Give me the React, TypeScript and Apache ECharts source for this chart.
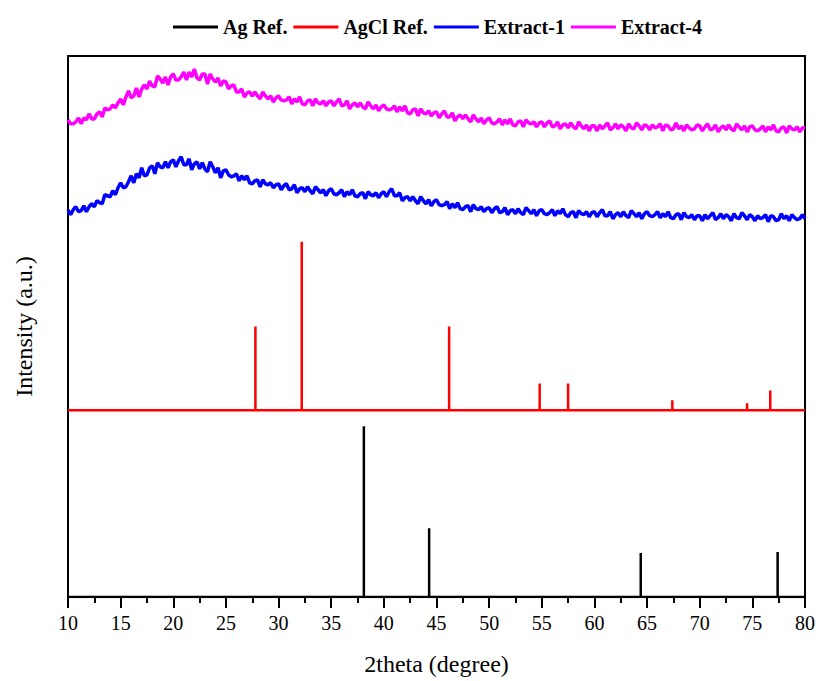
import React, { useEffect, useRef } from "react";
import * as echarts from "echarts";

// 2theta grid for the measured patterns: 10..80 step 0.25
const scanStart = 10;
const scanStep = 0.25;

const extract1 = [
  388, 383, 388, 391, 386, 387, 392, 386, 391, 394, 391, 397, 395, 394, 403, 402, 401, 407, 403, 410,
  415, 410, 411, 416, 422, 415, 424, 420, 430, 422, 423, 430, 432, 424, 435, 431, 430, 436, 430, 436,
  438, 431, 437, 441, 433, 433, 439, 428, 434, 436, 429, 435, 429, 426, 436, 431, 425, 430, 420, 427,
  428, 423, 421, 422, 424, 417, 422, 418, 422, 415, 414, 417, 418, 411, 418, 414, 413, 415, 410, 413,
  414, 408, 412, 414, 408, 409, 413, 405, 409, 410, 406, 411, 407, 404, 411, 408, 405, 408, 402, 407,
  409, 404, 403, 405, 408, 401, 406, 403, 408, 402, 401, 404, 405, 399, 406, 403, 402, 405, 400, 404,
  406, 401, 406, 409, 402, 402, 405, 397, 400, 401, 397, 401, 397, 394, 401, 397, 394, 398, 392, 396,
  398, 393, 392, 393, 396, 389, 394, 390, 395, 389, 388, 391, 392, 386, 393, 389, 388, 391, 386, 389,
  390, 385, 389, 391, 385, 386, 390, 383, 387, 388, 384, 389, 385, 383, 390, 387, 384, 388, 382, 387,
  388, 384, 383, 385, 388, 382, 387, 384, 389, 383, 381, 385, 386, 380, 387, 384, 383, 386, 381, 385,
  386, 381, 385, 388, 382, 382, 386, 379, 383, 385, 381, 386, 382, 380, 387, 384, 381, 385, 379, 384,
  386, 382, 381, 383, 386, 380, 384, 381, 386, 380, 379, 383, 384, 378, 385, 381, 380, 383, 378, 382,
  382, 377, 383, 379, 382, 385, 378, 380, 384, 379, 383, 381, 377, 384, 380, 379, 385, 382, 378, 383,
  381, 377, 382, 379, 380, 383, 376, 382, 381, 377, 378, 384, 379, 382, 377, 383, 380, 378, 379, 383,
  379,
];

const extract4 = [
  478, 474, 474, 476, 480, 474, 480, 478, 484, 479, 479, 484, 486, 481, 490, 488, 489, 493, 490, 495,
  499, 493, 501, 507, 500, 502, 510, 501, 509, 513, 509, 517, 512, 511, 522, 519, 515, 521, 513, 521,
  524, 518, 518, 521, 526, 518, 526, 521, 529, 520, 518, 524, 524, 514, 524, 519, 516, 520, 512, 517,
  516, 509, 512, 513, 506, 506, 509, 501, 505, 506, 502, 506, 502, 499, 506, 502, 499, 502, 496, 500,
  502, 498, 497, 498, 501, 494, 499, 496, 501, 494, 493, 497, 498, 492, 499, 495, 494, 497, 492, 496,
  497, 492, 496, 499, 492, 493, 497, 489, 493, 495, 491, 495, 491, 489, 496, 492, 489, 493, 487, 491,
  493, 489, 488, 489, 492, 486, 491, 487, 492, 485, 484, 488, 489, 482, 489, 485, 484, 487, 482, 485,
  486, 480, 484, 487, 481, 481, 485, 477, 481, 483, 479, 483, 479, 476, 483, 479, 476, 480, 474, 478,
  480, 475, 474, 476, 479, 473, 478, 474, 479, 473, 472, 476, 477, 471, 478, 475, 474, 476, 471, 475,
  476, 471, 475, 477, 471, 472, 476, 469, 473, 474, 470, 475, 471, 469, 476, 472, 469, 473, 467, 472,
  472, 467, 473, 469, 472, 475, 468, 470, 474, 469, 473, 471, 467, 474, 470, 469, 475, 472, 468, 473,
  472, 468, 473, 470, 471, 474, 467, 473, 472, 468, 469, 475, 469, 472, 467, 473, 470, 468, 469, 473,
  472, 467, 471, 474, 468, 469, 473, 466, 470, 472, 468, 473, 469, 467, 474, 471, 468, 472, 466, 471,
  472, 468, 467, 469, 472, 466, 471, 468, 473, 467, 466, 470, 471, 465, 472, 469, 468, 471, 466, 470,
  470,
];

// Reference stick patterns
const agPos = [38.1, 44.3, 64.4, 77.4];
const agInt = [171, 69, 44, 45];
const agBase = 0;

const agclPos = [27.8, 32.2, 46.2, 54.8, 57.5, 67.4, 74.5, 76.7];
const agclInt = [84, 169, 84, 27, 27, 10, 7, 20];
const agclBase = 187;

const xTicks = { min: 10, max: 80, interval: 5 };
const yRange = { min: 0, max: 542 };

const seriesNames = ["Ag Ref.", "AgCl Ref.", "Extract-1", "Extract-4"];
const seriesColors = ["#000000", "#ff0000", "#0000ff", "#ff00ff"];

function sticks(pos: number[], heights: number[], base: number) {
  const pts: number[][] = [[xTicks.min, base]];
  pos.forEach((p, i) => {
    pts.push([p, base], [p, base + heights[i]], [p, base]);
  });
  pts.push([xTicks.max, base]);
  return pts;
}

function scan(vals: number[]) {
  return vals.map((v, i) => [scanStart + i * scanStep, v]);
}

const FONT = "'Liberation Serif', 'Times New Roman', serif";

export default function App() {
  const ref = useRef<HTMLDivElement>(null);
  useEffect(() => {
    if (!ref.current) return;
    const chart = echarts.init(ref.current, undefined, { renderer: "svg" });
    chart.setOption({
      animation: false,
      backgroundColor: "#ffffff",
      legend: {
        top: 12,
        left: 168,
        itemWidth: 45,
        itemHeight: 3,
        itemGap: 6,
        icon: "rect",
        data: seriesNames,
        textStyle: { fontFamily: FONT, fontSize: 20, fontWeight: "bold", color: "#000" },
      },
      grid: {
        left: 68,
        right: 14,
        top: 56,
        bottom: 83,
        show: true,
        borderColor: "#000",
        borderWidth: 2,
      },
      xAxis: {
        type: "value",
        min: xTicks.min,
        max: xTicks.max,
        interval: xTicks.interval,
        name: "2theta (degree)",
        nameLocation: "middle",
        nameGap: 55,
        nameTextStyle: { fontFamily: FONT, fontSize: 24, color: "#000" },
        axisLine: { show: true, lineStyle: { color: "#000", width: 2 } },
        axisTick: { show: true, inside: false, length: 11, lineStyle: { color: "#000", width: 2 } },
        minorTick: { show: true, splitNumber: 2, length: 6, lineStyle: { color: "#000", width: 2 } },
        axisLabel: { fontFamily: FONT, fontSize: 20, color: "#000", margin: 16 },
        splitLine: { show: false },
      },
      yAxis: {
        type: "value",
        min: yRange.min,
        max: yRange.max,
        name: "Intensity (a.u.)",
        nameLocation: "middle",
        nameGap: 32,
        nameTextStyle: { fontFamily: FONT, fontSize: 24, color: "#000" },
        axisLine: { show: true, lineStyle: { color: "#000", width: 2 } },
        axisTick: { show: false },
        axisLabel: { show: false },
        splitLine: { show: false },
      },
      series: [
        {
          name: seriesNames[0],
          type: "line",
          data: sticks(agPos, agInt, agBase),
          showSymbol: false,
          symbol: "none",
          lineStyle: { color: seriesColors[0], width: 2.5 },
          itemStyle: { color: seriesColors[0] },
        },
        {
          name: seriesNames[1],
          type: "line",
          data: sticks(agclPos, agclInt, agclBase),
          showSymbol: false,
          symbol: "none",
          lineStyle: { color: seriesColors[1], width: 2.5 },
          itemStyle: { color: seriesColors[1] },
        },
        {
          name: seriesNames[2],
          type: "line",
          data: scan(extract1),
          showSymbol: false,
          symbol: "none",
          lineStyle: { color: seriesColors[2], width: 3.5 },
          itemStyle: { color: seriesColors[2] },
        },
        {
          name: seriesNames[3],
          type: "line",
          data: scan(extract4),
          showSymbol: false,
          symbol: "none",
          lineStyle: { color: seriesColors[3], width: 3.5 },
          itemStyle: { color: seriesColors[3] },
        },
      ],
    });
    return () => chart.dispose();
  }, []);
  return <div ref={ref} style={{ width: 819, height: 681, position: "absolute", left: 0, top: 0 }} />;
}
